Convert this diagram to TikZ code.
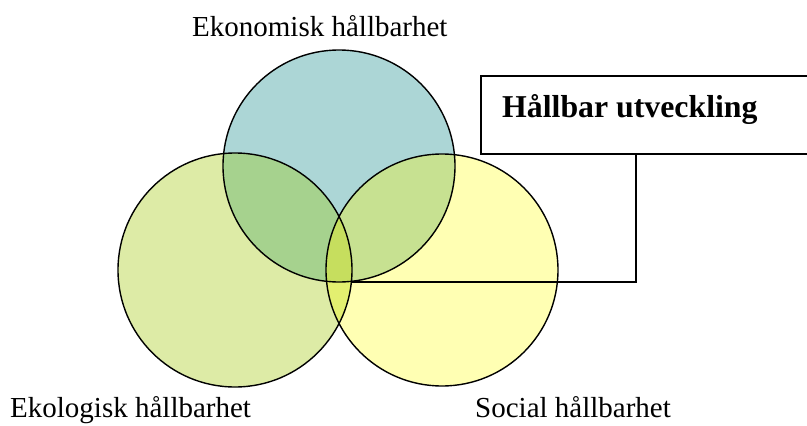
\documentclass[tikz,border=0pt]{standalone}
\usepackage{fontspec}
\setmainfont{Liberation Serif}
\begin{document}
\begin{tikzpicture}[x=1pt,y=-1pt,
  lbl/.style={anchor=base west,inner sep=0pt,font=\fontsize{29}{32}\selectfont},
  ring/.style={circle,draw=black,line width=1.4pt,inner sep=0pt},
  frame/.style={line width=1.8pt}]
\useasboundingbox (0,0) rectangle (807,426);
% region fills
\fill[fill={rgb,255:red,172;green,214;blue,214}] (339,166) circle (116);
\fill[fill={rgb,255:red,221;green,235;blue,166}] (235,270) circle (117);
\fill[fill={rgb,255:red,255;green,255;blue,179}] (442,270) circle (116);
\begin{scope}
  \clip (339,166) circle (116);
  \fill[fill={rgb,255:red,166;green,210;blue,142}] (235,270) circle (117);
  \fill[fill={rgb,255:red,199;green,225;blue,145}] (442,270) circle (116);
\end{scope}
\begin{scope}
  \clip (235,270) circle (117);
  \fill[fill={rgb,255:red,227;green,239;blue,112}] (442,270) circle (116);
  \clip (442,270) circle (116);
  \fill[fill={rgb,255:red,198;green,222;blue,94}] (339,166) circle (116);
\end{scope}
% circle outlines
\node[ring,minimum size=232] (eko) at (339,166) {};
\node[ring,minimum size=234] (ekol) at (235,270) {};
\node[ring,minimum size=232] (soc) at (442,270) {};
% labels
\node[lbl] (teko) at (192,36) {Ekonomisk hållbarhet};
\node[lbl] (tekol) at (10,417) {Ekologisk hållbarhet};
\node[lbl] (tsoc) at (475,417) {Social hållbarhet};
% callout box
\node[rectangle,inner sep=0pt,minimum width=326,minimum height=78] (box) at (644,115) {};
\draw[frame] (box.north east) -- (box.north west) -- (box.south west) -- (box.south east);
\node[anchor=base west,inner sep=0pt,font=\fontsize{31.8}{34}\selectfont\bfseries] (title) at (502,117) {Hållbar utveckling};
\coordinate (knee) at (636,282);
\coordinate (tip) at (351,282);
\draw[frame] (knee |- box.south) -- (knee) -- (tip);
\end{tikzpicture}
\end{document}
